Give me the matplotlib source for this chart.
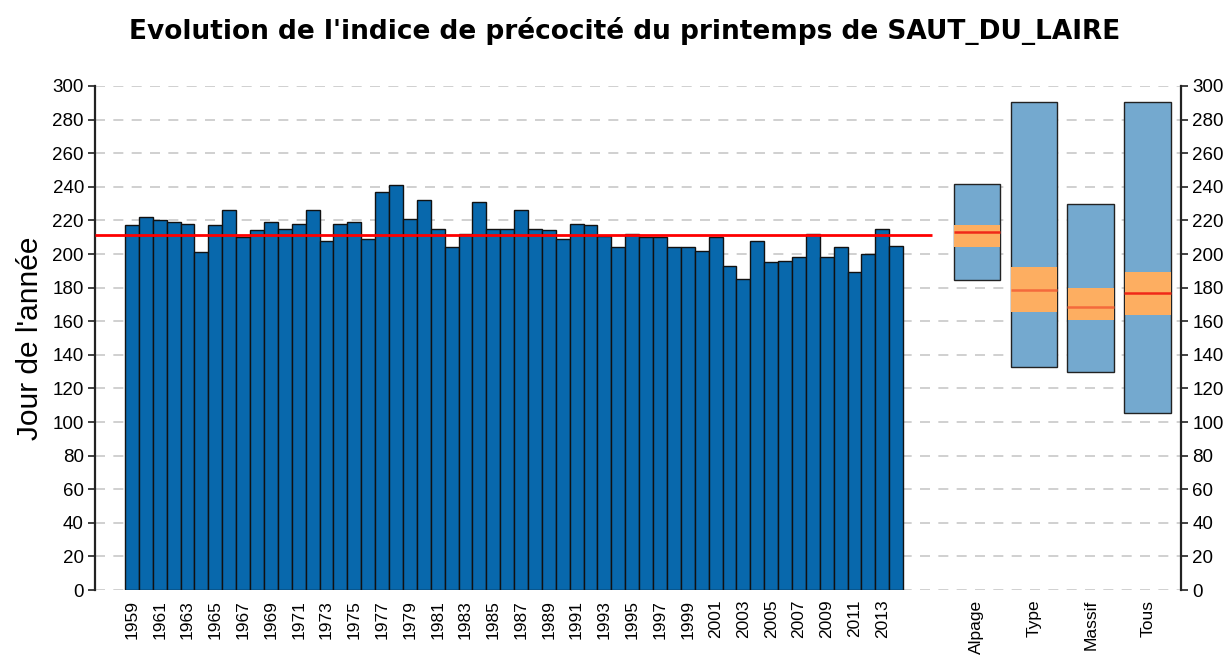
import numpy as np
import matplotlib.pyplot as plt

plt.rcParams['font.family'] = ['Liberation Sans', 'DejaVu Sans']

# Yearly spring precocity index (day of year)
years = list(range(1959, 2015))
values = [217, 222, 220, 219, 218, 201, 217, 226, 210, 214,
          219, 215, 218, 226, 208, 218, 219, 209, 237, 241,
          221, 232, 215, 204, 212, 231, 215, 215, 226, 215,
          214, 209, 218, 217, 211, 204, 212, 210, 210, 204,
          204, 202, 210, 193, 185, 208, 195, 196, 198, 212,
          198, 204, 189, 200, 215, 205]
mean_value = 211.5

# Reference ranges: min, q1, median, q3, max
ref_names = ['Alpage', 'Type', 'Massif', 'Tous']
ref_min = [184.5, 132.5, 130, 105.5]
ref_q1 = [204, 165.5, 161, 163.5]
ref_med = [213, 178.5, 168.5, 176.5]
ref_q3 = [217, 192.5, 180, 189]
ref_max = [241.5, 290.5, 230, 290.5]
med_colors = ['#f02818', '#f46a3c', '#f46a3c', '#f02818']

fig = plt.figure(figsize=(12.29, 6.64), dpi=100)
ax = fig.add_axes([0.0773, 0.1114, 0.8837, 0.7591])

x = np.arange(len(years))
ax.bar(x, values, width=1.0, color='#0868ac', edgecolor='#111111', linewidth=1.0, zorder=2)

# reference boxes on the right
ref_x = np.array([60.8, 64.9, 69.0, 73.1])
bw = 3.35
for i in range(len(ref_names)):
    ax.bar(ref_x[i], ref_max[i] - ref_min[i], bottom=ref_min[i], width=bw,
           color='#74a9cf', edgecolor='#222222', linewidth=1.0, zorder=2)
    ax.bar(ref_x[i], ref_q3[i] - ref_q1[i], bottom=ref_q1[i], width=bw * 0.98,
           color='#fdae61', edgecolor='none', zorder=3)
    ax.hlines(ref_med[i], ref_x[i] - bw / 2, ref_x[i] + bw / 2,
              color=med_colors[i], linewidth=1.8, zorder=4)

# mean line
ax.hlines(mean_value, -2.66, 57.6, color='#ff0000', linewidth=2, zorder=4)

ax.set_xlim(-2.66, 75.5)
ax.set_ylim(0, 300)
ax.set_yticks(np.arange(0, 301, 20))
ax.yaxis.grid(True, linestyle=(0, (6, 5)), color='#c8c8c8', linewidth=1.2, zorder=0)
ax.set_axisbelow(True)

tick_pos = list(x[::2]) + list(ref_x)
tick_lab = [str(y) for y in years[::2]] + ref_names
ax.set_xticks(tick_pos)
ax.set_xticklabels(tick_lab, rotation=90, fontsize=12.5)
ax.tick_params(axis='x', length=0, pad=7)
ax.tick_params(axis='y', left=True, right=True, labelleft=True, labelright=True,
               labelsize=13.5, direction='out', length=5, width=1.3, color='#333333', pad=3)

for s in ['top', 'bottom']:
    ax.spines[s].set_visible(False)
for s in ['left', 'right']:
    ax.spines[s].set_color('#222222')
    ax.spines[s].set_linewidth(1.6)

ax.set_ylabel("Jour de l'année", fontsize=21.5, labelpad=6)
fig.suptitle("Evolution de l'indice de précocité du printemps de SAUT_DU_LAIRE",
             fontsize=19, fontweight='bold', family='DejaVu Sans', x=0.508, y=0.975)

fig.savefig('out.png', dpi=100)
